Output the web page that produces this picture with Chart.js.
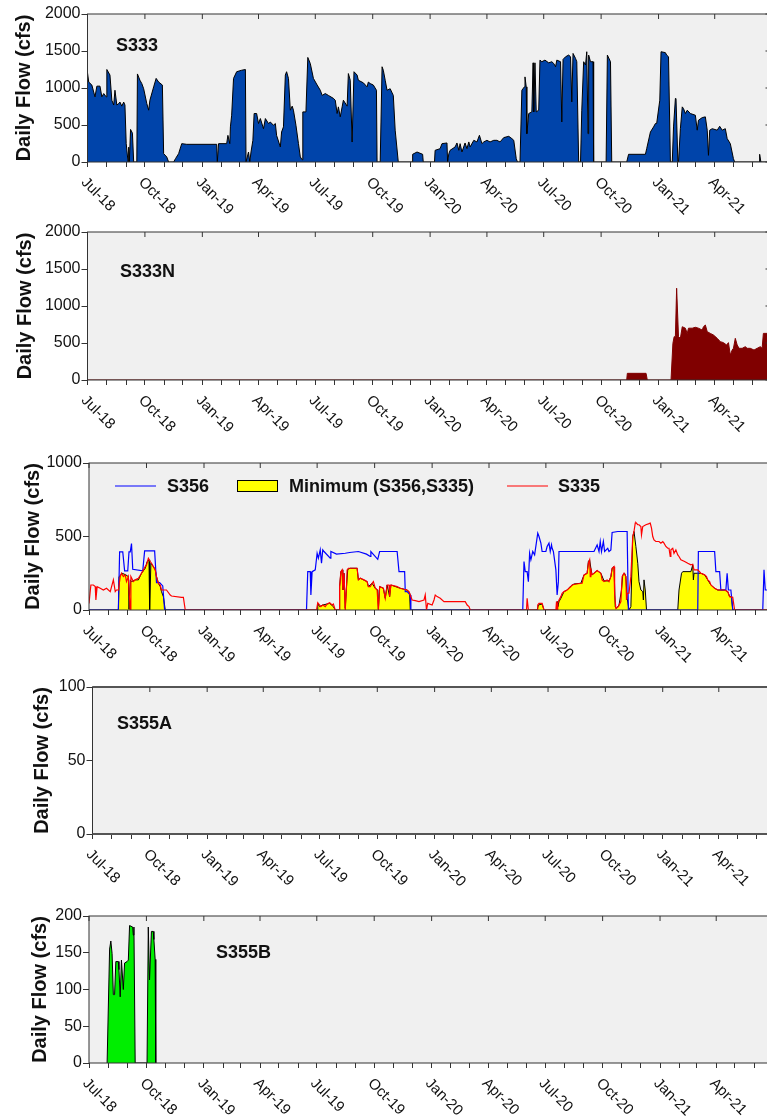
<!DOCTYPE html>
<html>
<head>
<meta charset="utf-8">
<title>Daily Flow</title>
<script src="https://cdn.jsdelivr.net/npm/chart.js@4.4.1/dist/chart.umd.min.js"></script>
<style>
  html, body { margin: 0; padding: 0; background: #fff; }
  body { width: 767px; height: 1120px; position: relative; overflow: hidden; }
  canvas { position: absolute; left: 0; }
</style>
</head>
<body>
<canvas id="s333Chart"></canvas>
<canvas id="s333nChart"></canvas>
<canvas id="s356Chart"></canvas>
<canvas id="s355aChart"></canvas>
<canvas id="s355bChart"></canvas>
<script>
// x values are days since 1 Jul 2018, flows in cfs
const quarterLabels = ['Jul-18', 'Oct-18', 'Jan-19', 'Apr-19', 'Jul-19', 'Oct-19',
	'Jan-20', 'Apr-20', 'Jul-20', 'Oct-20', 'Jan-21', 'Apr-21'];

const s333Day = [
	0, 2, 7, 12, 15, 20, 23, 26, 30, 31,
	36, 39, 42, 44, 47, 50, 52, 55, 58, 60,
	62, 65, 66, 67, 69, 72, 74, 79, 80, 84,
	87, 90, 95, 98, 100, 106, 110, 114, 120, 122,
	127, 130, 138, 141, 146, 151, 159, 207, 208, 210,
	223, 225, 228, 229, 231, 234, 239, 247, 253, 254,
	258, 260, 262, 265, 267, 271, 274, 277, 282, 285,
	290, 293, 298, 301, 303, 309, 311, 314, 317, 319,
	322, 325, 328, 330, 334, 338, 341, 344, 345, 350,
	353, 357, 362, 368, 373, 376, 381, 386, 394, 397,
	400, 402, 405, 408, 410, 416, 418, 421, 424, 425,
	427, 432, 434, 442, 448, 450, 453, 458, 463, 464,
	469, 472, 474, 477, 480, 485, 490, 493, 498, 520,
	521, 528, 537, 538, 556, 557, 565, 568, 576, 577,
	579, 581, 589, 592, 595, 597, 600, 605, 608, 611,
	613, 619, 624, 628, 632, 635, 640, 645, 651, 656,
	661, 667, 675, 680, 683, 687, 689, 693, 696, 700,
	701, 703, 704, 707, 712, 714, 715, 717, 719, 723,
	725, 728, 733, 739, 744, 747, 750, 752, 758, 760,
	762, 766, 771, 774, 776, 778, 782, 784, 787, 790,
	792, 795, 798, 800, 802, 803, 806, 810, 811, 831,
	833, 838, 840, 864, 867, 894, 896, 902, 907, 910,
	912, 917, 919, 926, 928, 931, 934, 937, 939, 942,
	943, 946, 947, 950, 953, 955, 958, 961, 966, 974,
	977, 979, 985, 990, 993, 995, 997, 1001, 1009, 1013,
	1017, 1022, 1025, 1030, 1035, 1037, 1076, 1077, 1079, 1096
];
const s333Flow = [
	1205, 1080, 1040, 880, 1025, 1025, 880, 925, 880, 1250,
	1175, 835, 770, 970, 770, 790, 810, 755, 810, 770,
	250, 0, 200, 0, 440, 390, 0, 0, 1190, 1105,
	1060, 990, 790, 700, 835, 1015, 1130, 1080, 1040, 113,
	68, 0, 0, 45, 113, 248, 239, 239, 0, 248,
	248, 360, 248, 475, 632, 1130, 1220, 1240, 1250, 0,
	135, 0, 135, 293, 655, 655, 520, 587, 450, 587,
	520, 540, 497, 520, 360, 203, 405, 475, 1175, 1220,
	1130, 700, 755, 700, 497, 250, 68, 30, 677, 677,
	1413, 1330, 1130, 1040, 970, 900, 925, 900, 860, 835,
	655, 745, 610, 745, 835, 755, 1195, 1105, 270, 270,
	1220, 1175, 1105, 1070, 1015, 1080, 1060, 1040, 970, 0,
	0, 1287, 1240, 1105, 970, 990, 900, 430, 0, 0,
	104, 135, 104, 0, 0, 158, 180, 248, 257, 0,
	113, 158, 203, 257, 158, 248, 135, 257, 180, 271,
	203, 293, 271, 361, 248, 271, 293, 271, 293, 293,
	271, 330, 347, 316, 293, 45, 0, 0, 970, 1015,
	1150, 1015, 383, 655, 677, 1340, 677, 1340, 677, 700,
	1377, 1355, 1377, 1340, 1355, 1332, 1287, 1377, 1355, 541,
	1386, 1422, 1445, 1422, 812, 1467, 1400, 1355, 0, 0,
	700, 1355, 1310, 1490, 383, 1445, 1355, 1355, 0, 0,
	1445, 1355, 0, 0, 104, 104, 180, 406, 474, 520,
	520, 835, 1490, 1478, 1445, 1422, 0, 0, 474, 858,
	858, 0, 0, 450, 745, 722, 655, 700, 655, 632,
	430, 565, 600, 610, 430, 90, 430, 450, 430, 483,
	430, 450, 316, 248, 45, 0, 0, 104, 0, 0
];

const s333nDay = [
	0, 864, 865, 895, 897, 935, 938, 940, 942, 944,
	947, 950, 953, 958, 961, 963, 969, 974, 979, 985,
	987, 990, 993, 998, 1003, 1009, 1014, 1019, 1024, 1027,
	1030, 1033, 1035, 1038, 1041, 1044, 1049, 1054, 1057, 1062,
	1068, 1073, 1078, 1081, 1083, 1089, 1096
];
const s333nFlow = [
	0, 0, 90, 90, 0, 0, 495, 585, 585, 1240,
	585, 563, 720, 700, 630, 700, 700, 712, 700, 675,
	720, 743, 653, 630, 608, 563, 518, 505, 473, 505,
	338, 405, 428, 563, 473, 428, 428, 450, 428, 428,
	405, 428, 450, 428, 630, 630, 620
];

const s356Day = [
	0, 47, 49, 54, 57, 62, 64, 66, 68, 70,
	86, 89, 105, 108, 113, 118, 121, 348, 350, 354,
	355, 357, 362, 365, 367, 370, 372, 374, 376, 386,
	387, 396, 410, 417, 431, 444, 450, 451, 462, 465,
	493, 496, 505, 506, 509, 514, 515, 694, 696, 698,
	701, 703, 705, 707, 710, 713, 718, 720, 723, 725,
	731, 733, 736, 738, 740, 741, 743, 747, 749, 751,
	752, 808, 813, 816, 818, 820, 823, 825, 830, 832,
	835, 837, 846, 861, 863, 974, 975, 1001, 1003, 1009,
	1011, 1019, 1021, 1023, 1027, 1030, 1078, 1080, 1082, 1096
];
const s356Flow = [
	0, 0, 395, 395, 266, 266, 395, 395, 452, 277,
	266, 402, 402, 186, 186, 164, 0, 0, 261, 261,
	102, 261, 273, 386, 352, 409, 318, 409, 398, 352,
	398, 380, 386, 391, 398, 380, 364, 398, 345, 398,
	398, 261, 261, 125, 125, 102, 0, 0, 330, 261,
	261, 193, 386, 341, 398, 375, 523, 500, 455, 398,
	398, 432, 455, 398, 443, 420, 398, 273, 102, 193,
	398, 398, 443, 398, 466, 398, 466, 398, 420, 398,
	409, 527, 534, 534, 0, 0, 398, 398, 261, 261,
	136, 136, 250, 136, 136, 0, 0, 273, 136, 136
];

const s335Day = [
	0, 3, 7, 10, 11, 13, 18, 23, 28, 34,
	39, 42, 44, 47, 50, 52, 55, 58, 60, 63,
	64, 66, 67, 71, 74, 79, 84, 90, 92, 95,
	98, 100, 103, 106, 108, 111, 114, 116, 124, 130,
	132, 148, 151, 154, 364, 366, 369, 371, 374, 378,
	381, 385, 389, 391, 394, 400, 401, 403, 405, 406,
	408, 410, 412, 413, 415, 429, 431, 434, 440, 445,
	447, 450, 453, 455, 458, 461, 463, 465, 471, 474,
	477, 480, 481, 483, 493, 498, 504, 509, 512, 514,
	517, 522, 528, 536, 538, 540, 542, 549, 552, 554,
	557, 562, 568, 581, 602, 605, 608, 610, 700, 701,
	703, 717, 718, 720, 725, 728, 747, 748, 749, 750,
	752, 755, 757, 760, 765, 768, 771, 773, 779, 789,
	792, 797, 799, 801, 802, 803, 804, 808, 813, 819,
	821, 824, 829, 832, 835, 837, 840, 841, 843, 847,
	851, 853, 856, 859, 860, 861, 864, 867, 870, 872,
	874, 875, 878, 880, 883, 884, 886, 891, 895, 898,
	900, 902, 904, 907, 912, 915, 918, 920, 923, 926,
	928, 930, 931, 934, 936, 939, 942, 944, 947, 953,
	958, 963, 966, 968, 974, 979, 985, 988, 990, 993,
	995, 998, 1001, 1006, 1017, 1022, 1025, 1030, 1033, 1096
];
const s335Flow = [
	45, 170, 170, 159, 68, 159, 148, 136, 148, 125,
	205, 125, 136, 136, 227, 250, 227, 239, 193, 227,
	136, 0, 227, 193, 205, 216, 250, 295, 307, 352,
	330, 318, 295, 273, 227, 182, 170, 136, 136, 102,
	95, 86, 86, 0, 0, 50, 34, 23, 34, 23,
	41, 50, 34, 41, 0, 0, 159, 261, 273, 136,
	250, 0, 159, 273, 284, 284, 205, 216, 205, 193,
	159, 159, 182, 193, 148, 136, 0, 159, 148, 80,
	170, 170, 91, 170, 159, 148, 141, 136, 125, 102,
	68, 64, 57, 68, 102, 0, 45, 34, 68, 102,
	91, 80, 57, 57, 57, 34, 23, 0, 0, 80,
	0, 0, 34, 45, 45, 0, 0, 57, 0, 45,
	68, 91, 114, 125, 136, 148, 159, 170, 177, 182,
	239, 250, 318, 341, 227, 284, 239, 250, 268, 250,
	205, 193, 205, 193, 227, 284, 295, 102, 11, 23,
	57, 227, 250, 227, 68, 114, 114, 227, 500, 534,
	591, 595, 580, 580, 568, 511, 568, 580, 586, 591,
	557, 500, 477, 466, 466, 455, 466, 455, 432, 420,
	420, 364, 409, 420, 386, 409, 375, 364, 341, 330,
	318, 307, 311, 273, 273, 250, 239, 227, 205, 193,
	170, 159, 148, 136, 136, 125, 91, 86, 0, 0
];

const minDay = [
	0, 47, 48, 51, 53, 59, 63, 64, 66, 68,
	74, 79, 84, 90, 93, 96, 97, 99, 103, 106,
	108, 111, 114, 116, 119, 122, 365, 366, 369, 374,
	381, 385, 391, 394, 400, 401, 403, 405, 406, 408,
	410, 412, 414, 418, 429, 431, 434, 445, 447, 453,
	458, 462, 463, 465, 471, 474, 477, 481, 483, 498,
	509, 513, 514, 717, 719, 725, 728, 748, 749, 750,
	752, 755, 760, 765, 771, 776, 787, 792, 797, 799,
	801, 803, 805, 808, 813, 819, 824, 832, 835, 837,
	840, 842, 844, 848, 852, 854, 857, 859, 861, 864,
	867, 870, 872, 875, 878, 880, 883, 886, 887, 888,
	890, 892, 942, 944, 948, 950, 963, 966, 967, 968,
	974, 979, 985, 990, 995, 1001, 1006, 1017, 1022, 1025,
	1028, 1030, 1096
];
const minFlow = [
	0, 0, 227, 239, 250, 239, 227, 5, 205, 193,
	205, 205, 250, 284, 330, 341, 0, 318, 295, 273,
	227, 182, 159, 125, 91, 0, 0, 45, 23, 34,
	41, 45, 23, 0, 0, 159, 261, 273, 136, 250,
	11, 159, 277, 284, 284, 205, 216, 193, 159, 182,
	148, 136, 5, 159, 148, 80, 170, 91, 170, 148,
	136, 114, 0, 0, 34, 41, 0, 0, 57, 23,
	57, 80, 125, 136, 164, 177, 182, 239, 250, 330,
	341, 284, 239, 250, 268, 250, 198, 198, 227, 284,
	295, 23, 11, 34, 136, 239, 250, 227, 80, 0,
	23, 500, 534, 432, 318, 193, 136, 125, 68, 205,
	136, 0, 0, 136, 250, 261, 261, 307, 205, 250,
	250, 250, 239, 205, 170, 148, 136, 136, 125, 91,
	91, 0, 0
];

const s355bDay = [
	29, 33, 35, 37, 39, 41, 43, 47, 48, 50,
	52, 55, 57, 61, 63, 65, 70, 71, 72, 74,
	93, 95, 97, 100, 103, 104, 106, 107
];
const s355bFlow = [
	0, 155, 166, 149, 93, 93, 138, 138, 127, 90,
	140, 100, 136, 138, 140, 187, 185, 174, 185, 0,
	0, 185, 113, 179, 179, 168, 141, 0
];

Chart.defaults.font.family = '"Liberation Sans", Arial, sans-serif';
Chart.defaults.color = '#111';

// month starts (tick marks) and quarter starts (labels), in days since 1 Jul 2018
const monthStarts = [];
for (let m = 0; m <= 36; m++) {
	monthStarts.push(Math.round((Date.UTC(2018, 6 + m, 1) - Date.UTC(2018, 6, 1)) / 864e5));
}
const quarterDays = monthStarts.filter((d, i) => i % 3 === 0 && i < 36);
const lastDay = monthStarts[36];

const pts = (days, vals) => days.map((d, i) => ({x: d, y: vals[i]}));

const PAD_TOP = 12;
const X_AXIS_H = 60;
const CANVAS_W = 790;

const framePlugin = {
	id: 'frame',
	beforeDraw(chart) {
		const {ctx, chartArea: a} = chart;
		ctx.save();
		ctx.fillStyle = '#f0f0f0';
		ctx.fillRect(a.left, a.top, a.right - a.left, a.bottom - a.top);
		ctx.restore();
	},
	afterDraw(chart, args, opts) {
		const {ctx, chartArea: a} = chart;
		const x = chart.scales.x;
		const y = chart.scales.y;
		ctx.save();
		ctx.strokeStyle = '#333';
		ctx.lineWidth = 1;
		ctx.strokeRect(a.left, a.top, a.right - a.left, a.bottom - a.top);
		if (opts.heavy) {
			ctx.lineWidth = 2;
			ctx.strokeStyle = '#555';
			ctx.beginPath();
			ctx.moveTo(a.left, a.top); ctx.lineTo(a.right, a.top);
			ctx.moveTo(a.left, a.bottom); ctx.lineTo(a.right, a.bottom);
			ctx.stroke();
			ctx.lineWidth = 1;
			ctx.strokeStyle = '#333';
		}
		// inward ticks on top and right edges
		ctx.beginPath();
		quarterDays.forEach(d => {
			const px = x.getPixelForValue(d);
			ctx.moveTo(px, a.top);
			ctx.lineTo(px, a.top + 5);
		});
		y.ticks.forEach(t => {
			const py = y.getPixelForValue(t.value);
			ctx.moveTo(a.right, py);
			ctx.lineTo(a.right - 6, py);
		});
		ctx.stroke();

		// rotated date labels
		ctx.fillStyle = '#111';
		ctx.font = '15px "Liberation Sans", Arial, sans-serif';
		ctx.textAlign = 'left';
		ctx.textBaseline = 'middle';
		quarterDays.forEach((d, i) => {
			const px = x.getPixelForValue(d);
			ctx.save();
			ctx.translate(px - 4, a.bottom + 18);
			ctx.rotate(Math.PI / 4);
			ctx.fillText(quarterLabels[i], 0, 0);
			ctx.restore();
		});

		// station name
		ctx.font = 'bold 18px "Liberation Sans", Arial, sans-serif';
		if (opts.label) {
			ctx.fillText(opts.label, opts.labelX, a.top + opts.labelDy);
		}

		// legend inside the plot
		if (opts.legend) {
			const ly = a.top + 23;
			opts.legend.forEach(item => {
				if (item.type === 'line') {
					ctx.strokeStyle = item.color;
					ctx.lineWidth = 1.2;
					ctx.beginPath();
					ctx.moveTo(item.x, ly);
					ctx.lineTo(item.x + 41, ly);
					ctx.stroke();
				} else {
					ctx.fillStyle = item.color;
					ctx.fillRect(item.x, ly - 6, 41, 12);
					ctx.strokeStyle = '#000';
					ctx.lineWidth = 1;
					ctx.strokeRect(item.x + 0.5, ly - 5.5, 40, 11);
				}
				ctx.fillStyle = '#111';
				ctx.fillText(item.text, item.textX, ly + 1);
			});
		}
		ctx.restore();
	}
};

function makePanel(id, p, datasets, frameOpts) {
	const el = document.getElementById(id);
	const h = Math.round(p.bottom - p.top) + PAD_TOP + X_AXIS_H;
	el.width = CANVAS_W;
	el.height = h;
	el.style.top = (p.top - PAD_TOP) + 'px';
	return new Chart(el, {
		type: 'line',
		data: {datasets: datasets},
		options: {
			responsive: false,
			animation: false,
			devicePixelRatio: 1,
			events: [],
			layout: {
				padding: {top: PAD_TOP, left: 0, bottom: 0, right: CANVAS_W - p.left - p.width}
			},
			elements: {
				point: {radius: 0},
				line: {tension: 0}
			},
			plugins: {
				legend: {display: false},
				tooltip: {enabled: false},
				frame: frameOpts
			},
			scales: {
				x: {
					type: 'linear',
					min: 0,
					max: lastDay,
					afterBuildTicks: s => { s.ticks = monthStarts.map(v => ({value: v})); },
					afterFit: s => { s.height = X_AXIS_H; },
					ticks: {display: false},
					grid: {drawOnChartArea: false, tickLength: 5, color: '#333'},
					border: {display: false}
				},
				y: {
					min: 0,
					max: p.yMax,
					afterFit: s => { s.width = p.left; },
					ticks: {
						stepSize: p.yStep,
						font: {size: 16},
						color: '#111',
						padding: 1,
						callback: v => String(v)
					},
					title: {
						display: true,
						text: 'Daily Flow (cfs)',
						font: {size: 20, weight: 'bold'},
						color: '#111',
						padding: {top: p.titleX - 12, bottom: 0}
					},
					grid: {drawOnChartArea: false, tickLength: 6, color: '#333'},
					border: {display: false}
				}
			}
		},
		plugins: [framePlugin]
	});
}

makePanel('s333Chart',
	{top: 14, bottom: 161.5, left: 87.5, width: 684, yMax: 2000, yStep: 500, titleX: 24},
	[{
		label: 'S333',
		data: pts(s333Day, s333Flow),
		borderColor: '#000',
		borderWidth: 1,
		backgroundColor: '#0044aa',
		fill: 'origin'
	}],
	{label: 'S333', labelX: 116, labelDy: 32});

makePanel('s333nChart',
	{top: 232, bottom: 379.5, left: 87.5, width: 684, yMax: 2000, yStep: 500, titleX: 25},
	[{
		label: 'S333N',
		data: pts(s333nDay, s333nFlow),
		borderColor: '#800000',
		borderWidth: 1,
		backgroundColor: '#800000',
		fill: 'origin'
	}],
	{label: 'S333N', labelX: 120, labelDy: 40});

makePanel('s356Chart',
	{top: 463, bottom: 610, left: 89, width: 685, yMax: 1000, yStep: 500, titleX: 33},
	[{
		label: 'S335',
		data: pts(s335Day, s335Flow),
		borderColor: '#ff0000',
		borderWidth: 1.2,
		fill: false,
		order: 1
	}, {
		label: 'S356',
		data: pts(s356Day, s356Flow),
		borderColor: '#0000ff',
		borderWidth: 1.2,
		fill: false,
		order: 2
	}, {
		label: 'Minimum (S356,S335)',
		data: pts(minDay, minFlow),
		borderColor: '#000',
		borderWidth: 1,
		backgroundColor: '#ffff00',
		fill: 'origin',
		order: 3
	}],
	{legend: [
		{type: 'line', color: '#0000ff', x: 115, text: 'S356', textX: 167},
		{type: 'box', color: '#ffff00', x: 237, text: 'Minimum (S356,S335)', textX: 289},
		{type: 'line', color: '#ff0000', x: 507, text: 'S335', textX: 558}
	]});

makePanel('s355aChart',
	{top: 687, bottom: 833.5, left: 92.5, width: 683, yMax: 100, yStep: 50, titleX: 42},
	[],
	{label: 'S355A', labelX: 117, labelDy: 37, heavy: true});

makePanel('s355bChart',
	{top: 916, bottom: 1063.3, left: 89, width: 684, yMax: 200, yStep: 50, titleX: 40},
	[{
		label: 'S355B',
		data: pts(s355bDay, s355bFlow),
		borderColor: '#000',
		borderWidth: 1,
		backgroundColor: '#00ee00',
		fill: 'origin'
	}],
	{label: 'S355B', labelX: 216, labelDy: 37});
</script>
</body>
</html>
